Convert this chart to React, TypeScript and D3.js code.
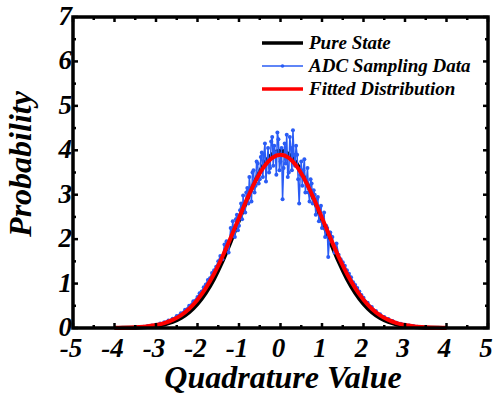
import React from 'react';
import * as d3 from 'd3';

const curveX = [-4, -3.8, -3.6, -3.4, -3.2, -3, -2.8, -2.6, -2.4, -2.2, -2, -1.8, -1.6, -1.4, -1.2, -1, -0.8, -0.6, -0.4, -0.2, 0,
  0.2, 0.4, 0.6, 0.8, 1, 1.2, 1.4, 1.6, 1.8, 2, 2.2, 2.4, 2.6, 2.8, 3, 3.2, 3.4, 3.6, 3.8, 4];
const pureState = [0.001, 0.003, 0.006, 0.012, 0.024, 0.044, 0.079, 0.136, 0.224, 0.355, 0.54, 0.79, 1.109, 1.497, 1.942, 2.42, 2.897, 3.332, 3.683, 3.91, 3.989,
  3.91, 3.683, 3.332, 2.897, 2.42, 1.942, 1.497, 1.109, 0.79, 0.54, 0.355, 0.224, 0.136, 0.079, 0.044, 0.024, 0.012, 0.006, 0.003, 0.001];
const fitted = [0.003, 0.006, 0.011, 0.021, 0.038, 0.066, 0.111, 0.182, 0.286, 0.434, 0.636, 0.898, 1.222, 1.604, 2.03, 2.478, 2.918, 3.312, 3.627, 3.83, 3.9,
  3.83, 3.627, 3.312, 2.918, 2.478, 2.03, 1.604, 1.222, 0.898, 0.636, 0.434, 0.286, 0.182, 0.111, 0.066, 0.038, 0.021, 0.011, 0.006, 0.003];

// ADC sampling data: tails every 0.1, flanks every 0.05, centre every 0.025
const adcTailLeftX = [-3.4, -3.3, -3.2, -3.1, -3.0, -2.9, -2.8, -2.7, -2.6, -2.5, -2.4, -2.3, -2.2, -2.1];
const adcTailLeftY = [0.02, 0.03, 0.045, 0.055, 0.075, 0.10, 0.13, 0.17, 0.21, 0.27, 0.33, 0.41, 0.50, 0.60];
const adcFlankLeftX = [-2.0, -1.95, -1.9, -1.85, -1.8, -1.75, -1.7, -1.65, -1.6, -1.55, -1.5, -1.45, -1.4, -1.35, -1.3, -1.25];
const adcFlankLeftY = [0.70, 0.78, 0.82, 0.92, 0.98, 1.08, 1.12, 1.24, 1.30, 1.38, 1.50, 1.62, 1.55, 1.88, 1.95, 1.70];
const adcCentreX = [-1.2, -1.175, -1.15, -1.125, -1.1, -1.075, -1.05, -1.025, -1.0, -0.975, -0.95, -0.925, -0.9, -0.875, -0.85, -0.825,
  -0.8, -0.775, -0.75, -0.725, -0.7, -0.675, -0.65, -0.625, -0.6, -0.575, -0.55, -0.525, -0.5, -0.475, -0.45, -0.425,
  -0.4, -0.375, -0.35, -0.325, -0.3, -0.275, -0.25, -0.225, -0.2, -0.175, -0.15, -0.125, -0.1, -0.075, -0.05, -0.025,
  0, 0.025, 0.05, 0.075, 0.1, 0.125, 0.15, 0.175, 0.2, 0.225, 0.25, 0.275, 0.3, 0.325, 0.35, 0.375,
  0.4, 0.425, 0.45, 0.475, 0.5, 0.525, 0.55, 0.575, 0.6, 0.625, 0.65, 0.675, 0.7, 0.725, 0.75, 0.775,
  0.8, 0.825, 0.85, 0.875, 0.9, 0.925, 0.95, 0.975, 1.0, 1.025, 1.05, 1.075, 1.1, 1.125, 1.15, 1.175, 1.2];
const adcCentreY = [2.25, 2.10, 2.40, 2.15, 2.05, 2.45, 2.55, 2.20, 2.30, 2.65, 2.80, 2.45, 2.98, 2.70, 2.60, 3.05,
  3.15, 2.80, 3.40, 3.10, 2.85, 3.50, 3.55, 3.05, 3.20, 3.75, 3.70, 3.25, 3.35, 3.85, 3.95, 3.40,
  3.90, 4.15, 3.30, 3.70, 4.05, 3.50, 3.60, 4.20, 4.30, 3.65, 4.10, 3.95, 3.45, 4.40, 4.25, 3.55,
  3.75, 4.05, 2.90, 3.60, 4.15, 3.70, 4.35, 3.40, 3.50, 4.30, 4.05, 3.55, 4.45, 3.90, 3.65, 4.10,
  3.90, 3.35, 2.80, 3.45, 3.75, 3.20, 3.55, 3.80, 3.05, 3.30, 3.60, 3.05, 2.85, 3.35, 3.25, 2.80,
  3.10, 3.00, 2.55, 2.90, 2.95, 2.40, 2.70, 2.75, 2.25, 2.50, 2.60, 2.05, 2.30, 2.25, 1.60, 1.95, 2.15];
const adcFlankRightX = [1.25, 1.3, 1.35, 1.4, 1.45, 1.5, 1.55, 1.6, 1.65, 1.7, 1.75, 1.8, 1.85, 1.9, 1.95, 2.0];
const adcFlankRightY = [2.05, 1.70, 1.90, 1.65, 1.55, 1.48, 1.40, 1.30, 1.22, 1.14, 1.03, 0.97, 0.90, 0.82, 0.74, 0.68];
const adcTailRightX = [2.1, 2.2, 2.3, 2.4, 2.5, 2.6, 2.7, 2.8, 2.9, 3.0, 3.1, 3.2, 3.3, 3.4];
const adcTailRightY = [0.57, 0.47, 0.38, 0.31, 0.25, 0.20, 0.16, 0.12, 0.095, 0.075, 0.055, 0.045, 0.03, 0.02];

const xTicks = [-5, -4, -3, -2, -1, 0, 1, 2, 3, 4, 5];
const yTicks = [0, 1, 2, 3, 4, 5, 6, 7];
const legendLabels = ['Pure State', 'ADC Sampling Data', 'Fitted Distribution'];

const BLUE = '#2a5cf5';
const RED = '#ff0000';
const txt = { fontFamily: 'Liberation Serif', fontWeight: 'bold', fontStyle: 'italic' } as React.CSSProperties;

const left = 73, right = 488, top = 17, bottom = 328;

const App = () => {
  const x = d3.scaleLinear().domain([-5, 5]).range([left, right]);
  const y = d3.scaleLinear().domain([0, 7]).range([bottom, top]);

  const smooth = d3.line<[number, number]>().x(d => x(d[0])).y(d => y(d[1])).curve(d3.curveMonotoneX);
  const straight = d3.line<[number, number]>().x(d => x(d[0])).y(d => y(d[1]));

  const pure = curveX.map((v, i) => [v, pureState[i]] as [number, number]);
  const fit = curveX.map((v, i) => [v, fitted[i]] as [number, number]);
  const adcX = [...adcTailLeftX, ...adcFlankLeftX, ...adcCentreX, ...adcFlankRightX, ...adcTailRightX];
  const adcY = [...adcTailLeftY, ...adcFlankLeftY, ...adcCentreY, ...adcFlankRightY, ...adcTailRightY];
  const adc = adcX.map((v, i) => [v, adcY[i]] as [number, number]);

  const halfX = d3.range(-5, 5.01, 0.5);
  const halfY = d3.range(0, 7.01, 0.5);

  return (
    <svg width={498} height={396} style={{ position: 'absolute', left: 0, top: 0, background: '#fff' }}>
      <path d={smooth(pure) || ''} fill="none" stroke="#000" strokeWidth={4} />
      <path d={straight(adc) || ''} fill="none" stroke={BLUE} strokeWidth={1.5} />
      {adc.map((d, i) => <circle key={i} cx={x(d[0])} cy={y(d[1])} r={2} fill={BLUE} />)}
      <path d={smooth(fit) || ''} fill="none" stroke={RED} strokeWidth={4} />

      {/* inward ticks on all four sides */}
      <g stroke="#000" strokeWidth={2.5}>
        {halfX.map(v => {
          const len = Number.isInteger(v) ? 5 : 3;
          return (
            <g key={'x' + v}>
              <line x1={x(v)} x2={x(v)} y1={bottom} y2={bottom - len} />
              <line x1={x(v)} x2={x(v)} y1={top} y2={top + len} />
            </g>
          );
        })}
        {halfY.map(v => {
          const len = Number.isInteger(v) ? 5 : 3;
          return (
            <g key={'y' + v}>
              <line y1={y(v)} y2={y(v)} x1={left} x2={left + len} />
              <line y1={y(v)} y2={y(v)} x1={right} x2={right - len} />
            </g>
          );
        })}
      </g>
      <rect x={left} y={top} width={right - left} height={bottom - top} fill="none" stroke="#000" strokeWidth={3.5} />

      {/* tick labels */}
      {xTicks.map(v => (
        <text key={'xt' + v} x={x(v) - 2} y={357} textAnchor="middle" style={{ ...txt, fontSize: 27 }}>{v}</text>
      ))}
      {yTicks.map(v => (
        <text key={'yt' + v} x={left - 1} y={y(v) + 8} textAnchor="end" style={{ ...txt, fontSize: 27 }}>{v}</text>
      ))}

      {/* axis titles */}
      <text x={283} y={388} textAnchor="middle" style={{ ...txt, fontSize: 32 }}>Quadrature Value</text>
      <text transform="translate(31,164) rotate(-90)" textAnchor="middle" style={{ ...txt, fontSize: 32 }}>Probability</text>

      {/* legend */}
      {legendLabels.map((label, i) => {
        const ry = 43 + i * 23;
        const color = ['#000', BLUE, RED][i];
        return (
          <g key={label}>
            <line x1={262} x2={303} y1={ry} y2={ry} stroke={color} strokeWidth={i === 1 ? 1.3 : 3.5} />
            {i === 1 && <circle cx={282.5} cy={ry} r={1.8} fill={color} />}
            <text x={309} y={ry + 6} style={{ ...txt, fontSize: 19 }}>{label}</text>
          </g>
        );
      })}
    </svg>
  );
};

export default App;
